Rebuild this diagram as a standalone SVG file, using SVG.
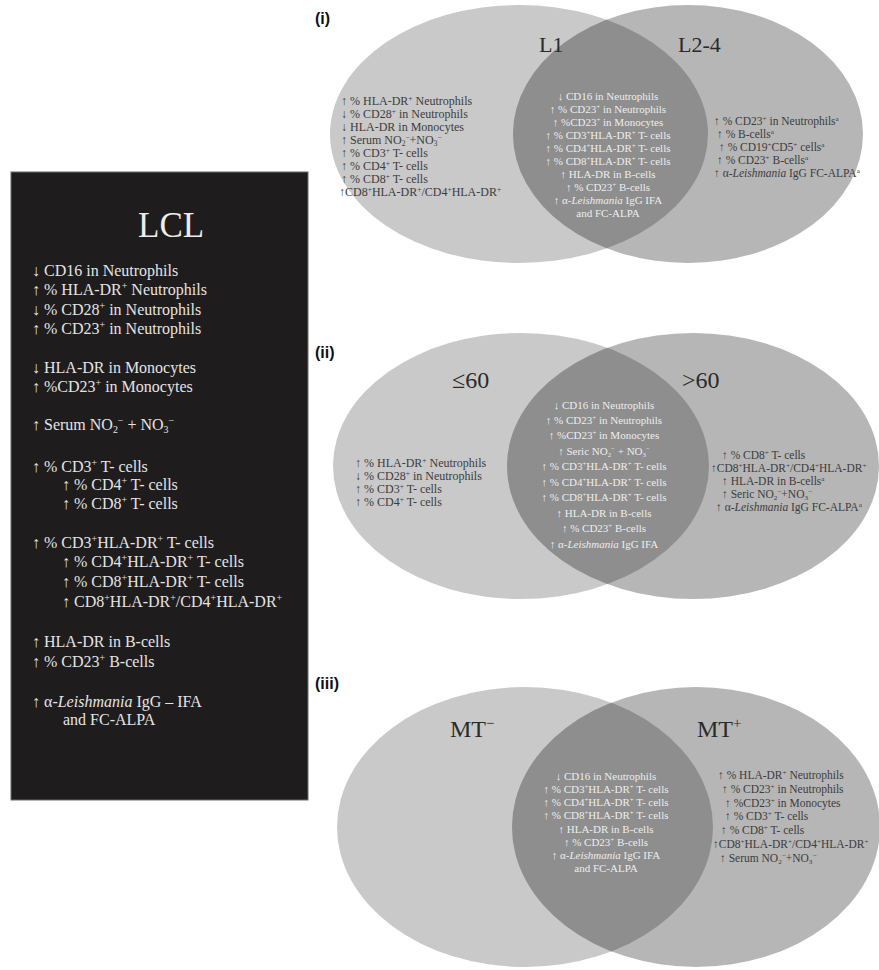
<svg xmlns="http://www.w3.org/2000/svg" width="879" height="970" viewBox="0 0 879 970">
<style>
.lcl{font-family:"Liberation Serif",serif;font-size:16px;fill:#e4e4e4}
.title{font-family:"Liberation Serif",serif;font-size:35px;fill:#ececec}
.vt{font-family:"Liberation Serif",serif;font-size:12px;fill:#3c3c3c}
.vr{font-family:"Liberation Serif",serif;font-size:11.5px;fill:#3c3c3c}
.vc{font-family:"Liberation Serif",serif;font-size:11px;fill:#ededed;text-anchor:middle}
.lab{font-family:"Liberation Serif",serif;font-size:24px;fill:#2a2a2a}
.lab2{font-family:"Liberation Serif",serif;font-size:22px;fill:#2a2a2a}
.num{font-family:"Liberation Sans",sans-serif;font-size:16px;font-weight:bold;fill:#111}
.sup{baseline-shift:0.6em;font-size:62%}
.sub{baseline-shift:-0.3em;font-size:62%}
.it{font-style:italic}
.le{fill:#c9c9c9}
.re{fill:#b6b6b6}
.ie{fill:#8e8e8e}
</style>
<defs>
<clipPath id="c1"><ellipse cx="519" cy="134" rx="189" ry="129"/></clipPath>
<clipPath id="c2"><ellipse cx="521" cy="466" rx="188" ry="133"/></clipPath>
<clipPath id="c3"><ellipse cx="525" cy="827" rx="188" ry="140"/></clipPath>
</defs>
<rect width="879" height="970" fill="#ffffff"/>

<g id="lcl-box">
<rect x="11" y="172" width="297" height="628" fill="#1f1c1d" stroke="#6a6a6a" stroke-width="1"/>
<text class="title" x="138" y="237">LCL</text>
<text class="lcl" x="32" y="276">↓ CD16 in Neutrophils</text>
<text class="lcl" x="32" y="295">↑ % HLA-DR<tspan class="sup">+</tspan> Neutrophils</text>
<text class="lcl" x="32" y="315">↓ % CD28<tspan class="sup">+</tspan> in Neutrophils</text>
<text class="lcl" x="32" y="334">↑ % CD23<tspan class="sup">+</tspan> in Neutrophils</text>
<text class="lcl" x="32" y="373">↓ HLA-DR in Monocytes</text>
<text class="lcl" x="32" y="392">↑ %CD23<tspan class="sup">+</tspan> in Monocytes</text>
<text class="lcl" x="32" y="430">↑ Serum NO<tspan class="sub">2</tspan><tspan class="sup">−</tspan> + NO<tspan class="sub">3</tspan><tspan class="sup">−</tspan></text>
<text class="lcl" x="32" y="472">↑ % CD3<tspan class="sup">+</tspan> T- cells</text>
<text class="lcl" x="62" y="490">↑ % CD4<tspan class="sup">+</tspan> T- cells</text>
<text class="lcl" x="62" y="509">↑ % CD8<tspan class="sup">+</tspan> T- cells</text>
<text class="lcl" x="32" y="548">↑ % CD3<tspan class="sup">+</tspan>HLA-DR<tspan class="sup">+</tspan> T- cells</text>
<text class="lcl" x="62" y="567">↑ % CD4<tspan class="sup">+</tspan>HLA-DR<tspan class="sup">+</tspan> T- cells</text>
<text class="lcl" x="62" y="587">↑ % CD8<tspan class="sup">+</tspan>HLA-DR<tspan class="sup">+</tspan> T- cells</text>
<text class="lcl" x="62" y="607">↑ CD8<tspan class="sup">+</tspan>HLA-DR<tspan class="sup">+</tspan>/CD4<tspan class="sup">+</tspan>HLA-DR<tspan class="sup">+</tspan></text>
<text class="lcl" x="32" y="647">↑ HLA-DR in B-cells</text>
<text class="lcl" x="32" y="667">↑ % CD23<tspan class="sup">+</tspan> B-cells</text>
<text class="lcl" x="32" y="707">↑ α-<tspan class="it">Leishmania</tspan> IgG – IFA</text>
<text class="lcl" x="63" y="725">and FC-ALPA</text>
</g>

<g id="venn-i">
<ellipse class="le" cx="519" cy="134" rx="189" ry="129"/>
<ellipse class="re" cx="688" cy="134" rx="175" ry="129"/>
<ellipse class="ie" cx="688" cy="134" rx="175" ry="129" clip-path="url(#c1)"/>
<text class="num" x="315" y="24">(i)</text>
<g id="i-L1">
<text class="lab2" x="539" y="52">L1</text>
<text class="vt" x="341" y="105">↑ % HLA-DR<tspan class="sup">+</tspan> Neutrophils</text>
<text class="vt" x="341" y="118">↓ % CD28<tspan class="sup">+</tspan> in Neutrophils</text>
<text class="vt" x="341" y="131">↓ HLA-DR in Monocytes</text>
<text class="vt" x="341" y="144">↑ Serum NO<tspan class="sub">2</tspan><tspan class="sup">−</tspan>+NO<tspan class="sub">3</tspan><tspan class="sup">−</tspan></text>
<text class="vt" x="341" y="157">↑ % CD3<tspan class="sup">+</tspan> T- cells</text>
<text class="vt" x="341" y="170">↑ % CD4<tspan class="sup">+</tspan> T- cells</text>
<text class="vt" x="341" y="183">↑ % CD8<tspan class="sup">+</tspan> T- cells</text>
<text class="vt" x="339" y="196">↑CD8<tspan class="sup">+</tspan>HLA-DR<tspan class="sup">+</tspan>/CD4<tspan class="sup">+</tspan>HLA-DR<tspan class="sup">+</tspan></text>
</g>
<g id="i-both">
<text class="vc" x="608" y="100">↓ CD16 in Neutrophils</text>
<text class="vc" x="608" y="113">↑ % CD23<tspan class="sup">+</tspan> in Neutrophils</text>
<text class="vc" x="608" y="126">↑ %CD23<tspan class="sup">+</tspan> in Monocytes</text>
<text class="vc" x="608" y="139">↑ % CD3<tspan class="sup">+</tspan>HLA-DR<tspan class="sup">+</tspan> T- cells</text>
<text class="vc" x="608" y="152">↑ % CD4<tspan class="sup">+</tspan>HLA-DR<tspan class="sup">+</tspan> T- cells</text>
<text class="vc" x="608" y="165">↑ % CD8<tspan class="sup">+</tspan>HLA-DR<tspan class="sup">+</tspan> T- cells</text>
<text class="vc" x="608" y="178">↑ HLA-DR in B-cells</text>
<text class="vc" x="608" y="191">↑ % CD23<tspan class="sup">+</tspan> B-cells</text>
<text class="vc" x="608" y="204">↑ α-<tspan class="it">Leishmania</tspan> IgG IFA</text>
<text class="vc" x="608" y="217">and FC-ALPA</text>
</g>
<g id="i-L2-4">
<text class="lab2" x="678" y="52">L2-4</text>
<text class="vr" x="714" y="125">↑ % CD23<tspan class="sup">+</tspan> in Neutrophils<tspan class="sup">a</tspan></text>
<text class="vr" x="717" y="138">↑ % B-cells<tspan class="sup">a</tspan></text>
<text class="vr" x="719" y="151">↑ % CD19<tspan class="sup">+</tspan>CD5<tspan class="sup">+</tspan> cells<tspan class="sup">a</tspan></text>
<text class="vr" x="717" y="164">↑ % CD23<tspan class="sup">+</tspan> B-cells<tspan class="sup">a</tspan></text>
<text class="vr" x="714" y="177">↑ α-<tspan class="it">Leishmania</tspan> IgG FC-ALPA<tspan class="sup">a</tspan></text>
</g>
</g>

<g id="venn-ii">
<ellipse class="le" cx="521" cy="466" rx="188" ry="133"/>
<ellipse class="re" cx="693" cy="466" rx="186" ry="133"/>
<ellipse class="ie" cx="693" cy="466" rx="186" ry="133" clip-path="url(#c2)"/>
<text class="num" x="315" y="358">(ii)</text>
<g id="ii-le60">
<text class="lab" x="452" y="388">≤60</text>
<text class="vt" x="355" y="467">↑ % HLA-DR<tspan class="sup">+</tspan> Neutrophils</text>
<text class="vt" x="355" y="480">↓ % CD28<tspan class="sup">+</tspan> in Neutrophils</text>
<text class="vt" x="355" y="493">↑ % CD3<tspan class="sup">+</tspan> T- cells</text>
<text class="vt" x="355" y="506">↑ % CD4<tspan class="sup">+</tspan> T- cells</text>
</g>
<g id="ii-both">
<text class="vc" x="604" y="409">↓ CD16 in Neutrophils</text>
<text class="vc" x="604" y="424">↑ % CD23<tspan class="sup">+</tspan> in Neutrophils</text>
<text class="vc" x="604" y="439">↑ %CD23<tspan class="sup">+</tspan> in Monocytes</text>
<text class="vc" x="604" y="455">↑ Seric NO<tspan class="sub">2</tspan><tspan class="sup">−</tspan> + NO<tspan class="sub">3</tspan><tspan class="sup">−</tspan></text>
<text class="vc" x="604" y="470">↑ % CD3<tspan class="sup">+</tspan>HLA-DR<tspan class="sup">+</tspan> T- cells</text>
<text class="vc" x="604" y="486">↑ % CD4<tspan class="sup">+</tspan>HLA-DR<tspan class="sup">+</tspan> T- cells</text>
<text class="vc" x="604" y="501">↑ % CD8<tspan class="sup">+</tspan>HLA-DR<tspan class="sup">+</tspan> T- cells</text>
<text class="vc" x="604" y="517">↑ HLA-DR in B-cells</text>
<text class="vc" x="604" y="532">↑ % CD23<tspan class="sup">+</tspan> B-cells</text>
<text class="vc" x="604" y="548">↑ α-<tspan class="it">Leishmania</tspan> IgG IFA</text>
</g>
<g id="ii-gt60">
<text class="lab" x="682" y="388">&gt;60</text>
<text class="vr" x="722" y="459">↑ % CD8<tspan class="sup">+</tspan> T- cells</text>
<text class="vr" x="711" y="472">↑CD8<tspan class="sup">+</tspan>HLA-DR<tspan class="sup">+</tspan>/CD4<tspan class="sup">+</tspan>HLA-DR<tspan class="sup">+</tspan></text>
<text class="vr" x="722" y="485">↑ HLA-DR in B-cells<tspan class="sup">a</tspan></text>
<text class="vr" x="722" y="498">↑ Seric NO<tspan class="sub">2</tspan><tspan class="sup">−</tspan>+NO<tspan class="sub">3</tspan><tspan class="sup">−</tspan></text>
<text class="vr" x="716" y="511">↑ α-<tspan class="it">Leishmania</tspan> IgG FC-ALPA<tspan class="sup">a</tspan></text>
</g>
</g>

<g id="venn-iii">
<ellipse class="le" cx="525" cy="827" rx="188" ry="140"/>
<ellipse class="re" cx="696" cy="827" rx="184" ry="140"/>
<ellipse class="ie" cx="696" cy="827" rx="184" ry="140" clip-path="url(#c3)"/>
<text class="num" x="315" y="689">(iii)</text>
<g id="iii-MTneg">
<text class="lab" x="450" y="737">MT<tspan class="sup">−</tspan></text>
</g>
<g id="iii-both">
<text class="vc" x="606" y="780">↓ CD16 in Neutrophils</text>
<text class="vc" x="606" y="793">↑ % CD3<tspan class="sup">+</tspan>HLA-DR<tspan class="sup">+</tspan> T- cells</text>
<text class="vc" x="606" y="806">↑ % CD4<tspan class="sup">+</tspan>HLA-DR<tspan class="sup">+</tspan> T- cells</text>
<text class="vc" x="606" y="819">↑ % CD8<tspan class="sup">+</tspan>HLA-DR<tspan class="sup">+</tspan> T- cells</text>
<text class="vc" x="606" y="833">↑ HLA-DR in B-cells</text>
<text class="vc" x="606" y="846">↑ % CD23<tspan class="sup">+</tspan> B-cells</text>
<text class="vc" x="606" y="859">↑ α-<tspan class="it">Leishmania</tspan> IgG IFA</text>
<text class="vc" x="606" y="872">and FC-ALPA</text>
</g>
<g id="iii-MTpos">
<text class="lab" x="697" y="737">MT<tspan class="sup">+</tspan></text>
<text class="vr" x="718" y="779">↑ % HLA-DR<tspan class="sup">+</tspan> Neutrophils</text>
<text class="vr" x="722" y="793">↑ % CD23<tspan class="sup">+</tspan> in Neutrophils</text>
<text class="vr" x="725" y="807">↑ %CD23<tspan class="sup">+</tspan> in Monocytes</text>
<text class="vr" x="725" y="820">↑ % CD3<tspan class="sup">+</tspan> T- cells</text>
<text class="vr" x="721" y="834">↑ % CD8<tspan class="sup">+</tspan> T- cells</text>
<text class="vr" x="713" y="848">↑CD8<tspan class="sup">+</tspan>HLA-DR<tspan class="sup">+</tspan>/CD4<tspan class="sup">+</tspan>HLA-DR<tspan class="sup">+</tspan></text>
<text class="vr" x="720" y="862">↑ Serum NO<tspan class="sub">2</tspan><tspan class="sup">−</tspan>+NO<tspan class="sub">3</tspan><tspan class="sup">−</tspan></text>
</g>
</g>
</svg>
